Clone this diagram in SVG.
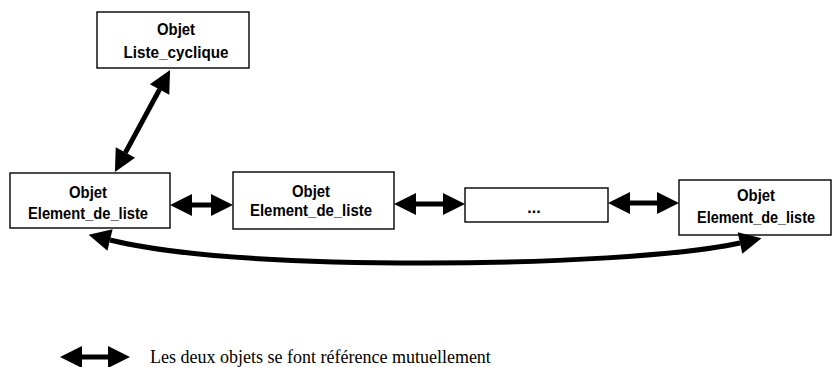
<svg xmlns="http://www.w3.org/2000/svg" width="833" height="367" viewBox="0 0 833 367">
<style>
.box{fill:#fff;stroke:#000;stroke-width:1.4}
.lbl{font-family:"Liberation Sans",Arial,sans-serif;font-weight:bold;font-size:16px;fill:#000;text-anchor:middle}
.con{fill:none;stroke:#000;stroke-width:5;marker-start:url(#ah);marker-end:url(#ah)}
.leg{font-family:"Liberation Serif","Times New Roman",serif;font-size:18px;fill:#000}
</style>
<defs>
<marker id="ah" markerUnits="userSpaceOnUse" markerWidth="22" markerHeight="22" refX="0" refY="11" orient="auto-start-reverse" overflow="visible">
<path d="M0,0 L22,11 L0,22 z" fill="#000"/>
</marker>
</defs>
<g id="liste_cyclique">
<rect class="box" x="97" y="12" width="152" height="56"/>
<text class="lbl" x="176" y="35" textLength="38" lengthAdjust="spacingAndGlyphs">Objet</text>
<text class="lbl" x="176" y="58" textLength="105" lengthAdjust="spacingAndGlyphs">Liste_cyclique</text>
</g>
<g id="element1">
<rect class="box" x="10" y="173" width="160" height="55"/>
<text class="lbl" x="88" y="198" textLength="38" lengthAdjust="spacingAndGlyphs">Objet</text>
<text class="lbl" x="88" y="219" textLength="120" lengthAdjust="spacingAndGlyphs">Element_de_liste</text>
</g>
<g id="element2">
<rect class="box" x="233" y="172" width="161" height="57"/>
<text class="lbl" x="311" y="197" textLength="38" lengthAdjust="spacingAndGlyphs">Objet</text>
<text class="lbl" x="311" y="216" textLength="122" lengthAdjust="spacingAndGlyphs">Element_de_liste</text>
</g>
<g id="ellipsis">
<rect class="box" x="465" y="188" width="143" height="34"/>
<text class="lbl" x="534" y="213">...</text>
</g>
<g id="element3">
<rect class="box" x="679" y="180" width="152" height="55"/>
<text class="lbl" x="756" y="201" textLength="38" lengthAdjust="spacingAndGlyphs">Objet</text>
<text class="lbl" x="756" y="223" textLength="118" lengthAdjust="spacingAndGlyphs">Element_de_liste</text>
</g>
<g id="connectors">
<path class="con" d="M159.6,89.4 L125.4,152.6"/>
<path class="con" d="M192,205 L211,205"/>
<path class="con" d="M416,204 L443,204"/>
<path class="con" d="M630,203 L657,203"/>
<path class="con" d="M110,240 C180,257 300,263 425,263 C550,263 680,256 740,243"/>
</g>
<g id="legend">
<path class="con" d="M82,357 L108,357"/>
<text class="leg" x="150" y="363">Les deux objets se font référence mutuellement</text>
</g>
</svg>
